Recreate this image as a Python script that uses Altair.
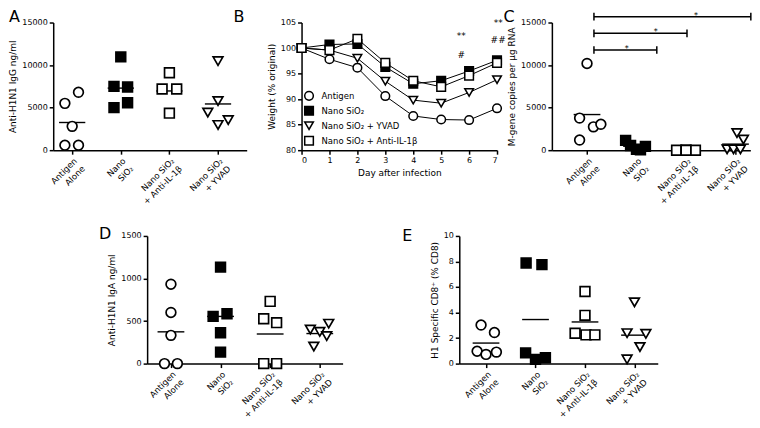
import altair as alt
import pandas as pd

# ---------------- data ----------------
groups = ["Antigen Alone", "Nano SiO₂", "Nano SiO₂ + Anti-IL-1β", "Nano SiO₂ + YVAD"]
group_lines = [["Antigen", "Alone"], ["Nano", "SiO₂"], ["Nano SiO₂", "+ Anti-IL-1β"], ["Nano SiO₂", "+ YVAD"]]
group_shapes = ["circle", "square", "square", "triangle-down"]
group_fills = ["white", "black", "white", "white"]

# Panel A: Anti-H1N1 IgG ng/ml
A_antigen = [5500, 6800, 2800, 580, 580]
A_antigen_dx = [-0.15, 0.13, 0, -0.15, 0.13]
A_nano = [10960, 7500, 7420, 5000, 5580]
A_nano_dx = [0, -0.14, 0.14, -0.14, 0.14]
A_antiil = [9100, 7190, 7190, 4350]
A_antiil_dx = [0, -0.15, 0.15, 0]
A_yvad = [10460, 5770, 4420, 2960, 3540]
A_yvad_dx = [0, 0, -0.21, 0, 0.21]

# Panel B: weight (% original)
days = [0, 1, 2, 3, 4, 5, 6, 7]
B_series = ["Antigen", "Nano SiO₂", "Nano SiO₂ + YVAD", "Nano SiO₂ + Anti-IL-1β"]
B_antigen = [100, 97.8, 96.15, 90.6, 86.7, 86.0, 85.9, 88.2]
B_nano = [100, 100.7, 100.8, 96.3, 93.0, 93.6, 95.5, 97.6]
B_yvad = [100, 99.6, 98.0, 93.5, 89.8, 89.2, 91.3, 93.8]
B_antiil = [100, 99.6, 101.8, 97.1, 93.6, 92.4, 94.6, 97.1]
B_note_text = ["**", "#", "**", "##"]
B_note_day = [5.72, 5.72, 7.04, 7.04]
B_note_y = [102.3, 98.6, 105.0, 101.5]

# Panel C: M-gene copies per ug RNA
C_antigen = [10190, 3770, 2740, 3040, 1190]
C_antigen_dx = [0, -0.15, 0.13, 0.28, -0.15]
C_nano = [1150, 550, 100, 450, 50]
C_nano_dx = [-0.22, -0.12, 0, 0.18, 0.08]
C_antiil = [0, 0, 0, 0]
C_antiil_dx = [-0.19, 0, 0.19, 0]
C_yvad = [2000, 1250, 100, 100, 100]
C_yvad_dx = [0.03, 0.16, -0.17, -0.04, 0.1]
C_brk_x1 = [0.14, 0.14, 0.14]
C_brk_x2 = [1.41, 2.02, 3.31]
C_brk_y = [11770, 13730, 15690]
C_star_x = [0.8, 1.39, 2.2]

# Panel D: Anti-H1N1 IgA ng/ml
D_antigen = [933, 601, 332, 0, 0]
D_antigen_dx = [0, 0, 0, -0.13, 0.13]
D_nano = [1134, 555, 586, 362, 135]
D_nano_dx = [0, -0.15, 0.13, 0, 0]
D_antiil = [731, 527, 481, 0, 0]
D_antiil_dx = [0, -0.13, 0.13, -0.13, 0.13]
D_yvad = [400, 373, 469, 323, 200]
D_yvad_dx = [-0.19, 0, 0.18, 0.14, -0.12]

# Panel E: H1 specific CD8+ (% CD8)
E_antigen = [3.02, 2.43, 0.97, 0.72, 0.9]
E_antigen_dx = [-0.1, 0.17, -0.18, 0, 0.21]
E_nano = [7.88, 7.75, 0.84, 0.33, 0.46]
E_nano_dx = [-0.19, 0.13, -0.2, 0, 0.2]
E_antiil = [5.65, 3.78, 2.38, 2.25, 2.25]
E_antiil_dx = [0, 0, -0.2, 0.02, 0.2]
E_yvad = [4.8, 2.38, 2.33, 1.3, 0.33]
E_yvad_dx = [0, -0.15, 0.23, 0.11, -0.15]

FONT = "DejaVu Sans"
label_expr = "[" + ",".join("['" + a + "','" + b + "']" for a, b in group_lines) + "][datum.value]"
H = 128


def scatter_df(series, offsets):
    rows = []
    for i, (vals, dxs) in enumerate(zip(series, offsets)):
        for v, d in zip(vals, dxs):
            rows.append({"group": groups[i], "cat": i, "xpos": i + d, "value": v})
    return pd.DataFrame(rows)


def panel_title(letter, dx, offset):
    return alt.TitleParams(letter, anchor="start", frame="bounds", fontSize=16,
                           fontWeight="normal", font=FONT, dx=dx, offset=offset)


def cat_axes(xdom, ydom, yvals, ytitle):
    xs = alt.Scale(domain=xdom, nice=False, zero=False)
    xa = alt.Axis(values=[0, 1, 2, 3], labelExpr=label_expr, labelAngle=315,
                  labelAlign="right", labelBaseline="top", labelLineHeight=11,
                  labelFontSize=8.5, title=None, labelOverlap=False,
                  labelBound=False, labelFlush=False, labelPadding=2)
    ys = alt.Scale(domain=ydom, nice=False, zero=False)
    ya = alt.Axis(values=yvals, title=ytitle, format="d", labelOverlap=False)
    return xs, xa, ys, ya


def scatter_layers(df, xs, xa, ys, ya):
    base = alt.Chart(df)
    means = base.transform_aggregate(
        m="mean(value)", groupby=["cat"]
    ).transform_calculate(
        x1="datum.cat - 0.27", x2="datum.cat + 0.27"
    ).mark_rule(color="black", strokeWidth=1.4).encode(
        x=alt.X("x1:Q", scale=xs, axis=xa), x2="x2:Q",
        y=alt.Y("m:Q", scale=ys, axis=ya))
    pts = base.mark_point(filled=False, color="black", strokeWidth=1.7, size=95, opacity=1).encode(
        x=alt.X("xpos:Q", scale=xs, axis=xa),
        y=alt.Y("value:Q", scale=ys, axis=ya),
        shape=alt.Shape("group:N", scale=alt.Scale(domain=groups, range=group_shapes), legend=None),
        fill=alt.Fill("group:N", scale=alt.Scale(domain=groups, range=group_fills), legend=None))
    return [means, pts]


# ---- A ----
dfA = scatter_df([A_antigen, A_nano, A_antiil, A_yvad], [A_antigen_dx, A_nano_dx, A_antiil_dx, A_yvad_dx])
axA = cat_axes([-0.39, 3.59], [0, 15000], [0, 5000, 10000, 15000], "Anti-H1N1 IgG ng/ml")
panelA = alt.layer(*scatter_layers(dfA, *axA)).properties(
    width=194, height=H, title=panel_title("A", 0, -6))

# ---- B ----
rowsB = []
for name, vals in zip(B_series, [B_antigen, B_nano, B_yvad, B_antiil]):
    for d, v in zip(days, vals):
        rowsB.append({"series": name, "day": d, "w": v})
dfB = pd.DataFrame(rowsB)
b_shapes = ["circle", "square", "triangle-down", "square"]
b_fills = ["white", "black", "white", "white"]
b_strokes = ["black", "black", "black", "black"]
xsB = alt.Scale(domain=[0, 7], nice=False)
xaB = alt.Axis(values=days, title="Day after infection", labelAngle=0, labelOverlap=False)
ysB = alt.Scale(domain=[80, 105], nice=False, zero=False)
yaB = alt.Axis(values=[80, 85, 90, 95, 100, 105], title="Weight (% original)", labelOverlap=False)
linesB = alt.Chart(dfB).mark_line(color="black", strokeWidth=1).encode(
    x=alt.X("day:Q", scale=xsB, axis=xaB), y=alt.Y("w:Q", scale=ysB, axis=yaB), detail="series:N")
legB = alt.Legend(title=None, orient="bottom-left", offset=2, padding=0,
                  symbolSize=75, labelFontSize=8.5, labelFont=FONT,
                  symbolStrokeWidth=1.5, symbolStrokeColor="black",
                  rowPadding=0, labelColor="black", labelOffset=7)
ptsB = alt.Chart(dfB).mark_point(filled=False, color="black", strokeWidth=1.5, size=75, opacity=1).encode(
    x=alt.X("day:Q", scale=xsB, axis=xaB), y=alt.Y("w:Q", scale=ysB, axis=yaB),
    shape=alt.Shape("series:N", scale=alt.Scale(domain=B_series, range=b_shapes), legend=legB),
    fill=alt.Fill("series:N", scale=alt.Scale(domain=B_series, range=b_fills), legend=legB),
    stroke=alt.Stroke("series:N", scale=alt.Scale(domain=B_series, range=b_strokes), legend=legB))
dfBn = pd.DataFrame({"day": B_note_day, "w": B_note_y, "t": B_note_text})
notesB = alt.Chart(dfBn).mark_text(font=FONT, fontSize=9, color="black", baseline="middle").encode(
    x=alt.X("day:Q", scale=xsB, axis=xaB), y=alt.Y("w:Q", scale=ysB, axis=yaB), text="t:N")
panelB = alt.layer(linesB, ptsB, notesB).properties(
    width=196, height=H, title=panel_title("B", -34, -6))

# ---- C ----
dfC = scatter_df([C_antigen, C_nano, C_antiil, C_yvad], [C_antigen_dx, C_nano_dx, C_antiil_dx, C_yvad_dx])
xsC, xaC, ysC, yaC = cat_axes([-0.71, 3.3], [0, 15000], [0, 5000, 10000, 15000], "M-gene copies per µg RNA")
dfCb = pd.DataFrame({"x1": C_brk_x1, "x2": C_brk_x2, "y": C_brk_y, "sx": C_star_x,
                     "s": ["*", "*", "*"]})
brk = alt.Chart(dfCb).mark_rule(color="black", strokeWidth=1.5).encode(
    x=alt.X("x1:Q", scale=xsC, axis=xaC), x2="x2:Q", y=alt.Y("y:Q", scale=ysC, axis=yaC))
ends = alt.Chart(dfCb).transform_fold(["x1", "x2"], as_=["side", "xe"]).transform_calculate(
    lo="datum.y - 450", hi="datum.y + 450").mark_rule(color="black", strokeWidth=1.5).encode(
    x=alt.X("xe:Q", scale=xsC, axis=xaC), y=alt.Y("lo:Q", scale=ysC, axis=yaC), y2="hi:Q")
stars = alt.Chart(dfCb).mark_text(font=FONT, fontSize=8, color="black", baseline="bottom", dy=3).encode(
    x=alt.X("sx:Q", scale=xsC, axis=xaC), y=alt.Y("y:Q", scale=ysC, axis=yaC), text="s:N")
panelC = alt.layer(*scatter_layers(dfC, xsC, xaC, ysC, yaC), brk, ends, stars).properties(
    width=199, height=H, title=panel_title("C", -4, -13))

# ---- D ----
dfD = scatter_df([D_antigen, D_nano, D_antiil, D_yvad], [D_antigen_dx, D_nano_dx, D_antiil_dx, D_yvad_dx])
axD = cat_axes([-0.48, 3.46], [0, 1500], [0, 500, 1000, 1500], "Anti-H1N1 IgA ng/ml")
panelD = alt.layer(*scatter_layers(dfD, *axD)).properties(
    width=196, height=H, title=panel_title("D", -9, -10))

# ---- E ----
dfE = scatter_df([E_antigen, E_nano, E_antiil, E_yvad], [E_antigen_dx, E_nano_dx, E_antiil_dx, E_yvad_dx])
axE = cat_axes([-0.54, 3.47], [0, 10], [0, 2, 4, 6, 8, 10], "H1 Specific CD8⁺ (% CD8)")
panelE = alt.layer(*scatter_layers(dfE, *axE)).properties(
    width=199, height=H, title=panel_title("E", -28, -12))

indep = dict(shape="independent", fill="independent", stroke="independent")
top = alt.hconcat(panelA, panelB, panelC, spacing=55, bounds="flush").resolve_scale(
    **indep).resolve_legend(**indep)
bottom = alt.hconcat(panelD, panelE, spacing=117, bounds="flush").resolve_scale(
    **indep).resolve_legend(**indep)
chart = alt.vconcat(top, bottom, spacing=20, center=True).resolve_scale(
    **indep).resolve_legend(**indep).properties(
    padding={"left": 0, "top": 0, "right": 0, "bottom": 0}
).configure_view(stroke=None).configure_axis(
    grid=False, domainColor="black", tickColor="black", domainWidth=1.5, tickWidth=1.5,
    tickSize=4, labelFont=FONT, titleFont=FONT, labelFontSize=8, titleFontSize=9,
    titleFontWeight="normal", labelColor="black", titleColor="black", titlePadding=4,
    labelOverlap=False, labelPadding=2
).configure_legend(labelFont=FONT)

chart.save("out.html", embed_options={"renderer": "svg", "actions": False})
